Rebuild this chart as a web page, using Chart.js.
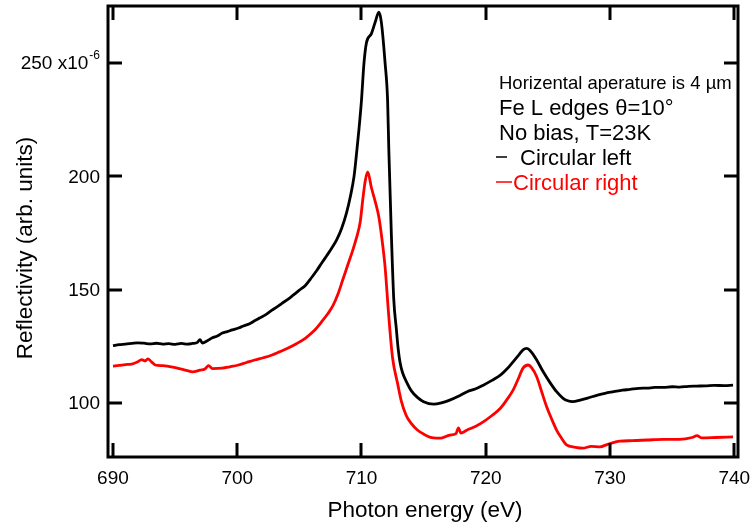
<!DOCTYPE html>
<html>
<head>
<meta charset="utf-8">
<script src="https://cdn.jsdelivr.net/npm/chart.js@4"></script>
<style>
  html, body { margin: 0; padding: 0; background: #fff; overflow: hidden; }
  canvas { display: block; }
</style>
</head>
<body>
<canvas id="refl-chart" width="753" height="529"></canvas>
<script>
// circular left (black)
var energyLeft = [690.0,690.5,691.0,691.5,692.0,692.5,693.0,693.5,694.0,694.5,695.0,695.5,696.0,696.4,696.8,697.0,697.2,697.6,
  698.0,698.4,698.8,699.2,699.6,700.1,700.5,701.0,701.4,701.8,702.3,702.8,703.2,703.6,704.1,704.5,705.0,705.5,706.0,706.4,
  706.8,707.2,707.6,708.0,708.4,708.8,709.1,709.4,709.6,709.8,710.0,710.2,710.4,710.8,711.1,711.4,711.6,711.9,712.1,712.2,712.4,
  712.6,712.8,712.95,713.1,713.3,713.7,714.0,714.5,715.0,715.8,716.5,717.1,717.8,718.5,719.2,719.8,720.5,721.2,721.7,722.2,722.7,
  723.0,723.3,723.6,724.1,724.6,725.2,725.7,726.2,726.6,727.0,727.6,728.2,729.0,729.6,730.3,731.0,731.6,732.3,733.0,733.6,
  734.3,735.0,735.6,736.3,737.0,737.7,738.4,739.2,739.9];
var reflLeft = [125.3,125.8,126.0,126.3,126.6,126.4,126.1,126.4,126.0,126.2,125.9,126.3,126.0,126.3,126.8,128.0,126.5,127.5,
  128.8,129.6,130.9,131.5,132.3,133.1,134.0,135.0,136.3,137.5,139.0,141.0,142.4,144.0,145.9,147.6,149.8,152.0,155.5,158.5,
  161.8,165.0,168.3,172.0,177.0,184.0,191.0,200.0,210.0,221.0,233.7,250.0,259.0,263.0,268.0,272.5,268.0,250.0,233.7,211.6,175.0,
  145.5,133.0,124.0,118.0,113.5,108.5,105.5,102.5,100.6,99.5,100.2,101.3,103.0,105.0,106.3,107.9,110.0,112.4,115.0,118.2,121.5,
  123.5,124.1,123.0,119.0,114.0,108.8,105.0,102.2,101.0,100.6,101.3,102.2,103.5,104.3,105.0,105.7,106.0,106.5,106.6,106.9,
  106.9,107.2,107.0,107.4,107.5,107.6,107.8,107.7,107.9];

// circular right (red)
var energyRight = [690.0,690.5,691.0,691.5,692.0,692.3,692.6,692.8,693.1,693.4,694.0,694.8,695.5,696.0,696.4,697.0,697.4,697.7,
  698.0,698.8,699.4,700.1,700.7,701.4,702.1,702.8,703.4,704.1,704.8,705.5,706.2,706.8,707.3,707.7,708.1,708.5,708.9,709.3,
  709.6,709.9,710.1,710.3,710.5,710.8,711.1,711.4,711.7,711.9,712.2,712.5,712.9,713.2,713.6,714.0,714.5,715.0,715.8,716.4,
  717.1,717.6,717.8,718.0,718.5,719.2,719.8,720.5,721.2,721.7,722.2,722.6,723.0,723.4,723.7,724.1,724.5,724.9,725.3,725.7,
  726.1,726.5,727.2,727.8,728.5,729.2,729.8,730.8,731.8,733.0,734.3,735.6,736.6,737.0,737.4,738.5,739.9];
var reflRight = [116.3,116.6,117.0,117.2,118.2,119.2,118.6,119.5,118.2,116.8,116.5,115.9,115.0,114.3,113.8,114.5,115.0,116.5,
  115.2,115.4,116.0,116.8,117.8,119.0,120.0,121.2,122.6,124.3,126.3,128.7,132.0,135.9,139.5,143.0,148.0,154.5,161.0,167.5,
  173.0,180.0,189.6,198.0,202.0,195.0,189.0,182.0,170.0,160.0,138.0,120.0,108.8,101.0,94.5,91.0,88.1,86.3,84.6,84.5,
  85.9,86.5,89.0,86.8,88.1,89.8,91.7,94.5,97.8,101.5,105.7,110.5,115.4,116.8,115.5,111.6,105.0,98.4,93.0,88.1,
  84.5,81.5,80.5,80.1,80.9,80.7,81.8,83.2,83.4,83.7,84.0,84.0,84.8,85.6,84.6,84.8,85.1];

var xTicks = [690, 700, 710, 720, 730, 740];
var yTicks = [100, 150, 200, 250];

var legendLines = ["Fe L edges \u03b8=10\u00b0", "No bias, T=23K"];
var FONT = "Arial, 'Liberation Sans', sans-serif";

function toPoints(xs, ys) {
  return xs.map(function (x, i) { return { x: x, y: ys[i] }; });
}

var frameAndLabels = {
  id: 'frameAndLabels',
  afterDraw: function (chart) {
    var ctx = chart.ctx;
    var a = chart.chartArea;
    var xs = chart.scales.x, ys = chart.scales.y;
    ctx.save();
    ctx.strokeStyle = '#000';
    ctx.lineWidth = 3;
    ctx.strokeRect(a.left, a.top, a.right - a.left, a.bottom - a.top);

    // mirrored inward ticks
    ctx.beginPath();
    xTicks.forEach(function (t) {
      var px = Math.round(xs.getPixelForValue(t));
      ctx.moveTo(px, a.bottom); ctx.lineTo(px, a.bottom - 14);
      ctx.moveTo(px, a.top); ctx.lineTo(px, a.top + 14);
    });
    yTicks.forEach(function (t) {
      var py = Math.round(ys.getPixelForValue(t));
      ctx.moveTo(a.left, py); ctx.lineTo(a.left + 14, py);
      ctx.moveTo(a.right, py); ctx.lineTo(a.right - 14, py);
    });
    ctx.stroke();

    ctx.fillStyle = '#000';
    ctx.font = '19px ' + FONT;
    ctx.textAlign = 'center';
    ctx.textBaseline = 'alphabetic';
    xTicks.forEach(function (t) {
      ctx.fillText(String(t), xs.getPixelForValue(t), 484);
    });

    ctx.textAlign = 'right';
    ctx.textBaseline = 'middle';
    yTicks.forEach(function (t) {
      var py = ys.getPixelForValue(t);
      if (t === 250) {
        ctx.font = '12px ' + FONT;
        var supW = ctx.measureText('-6').width;
        ctx.fillText('-6', 100, py - 7);
        ctx.font = '19px ' + FONT;
        ctx.fillText('250 x10', 100 - supW - 1, py + 1);
      } else {
        ctx.fillText(String(t), 100, py + 1);
      }
    });

    // axis titles
    ctx.font = '22.5px ' + FONT;
    ctx.textAlign = 'center';
    ctx.textBaseline = 'alphabetic';
    ctx.fillText('Photon energy (eV)', 425, 517);
    ctx.save();
    ctx.translate(32, 248);
    ctx.rotate(-Math.PI / 2);
    ctx.fillText('Reflectivity (arb. units)', 0, 0);
    ctx.restore();

    // annotation block
    ctx.textAlign = 'left';
    ctx.font = '18.5px ' + FONT;
    ctx.fillText('Horizental aperature is 4 \u00b5m', 499, 89);
    ctx.font = '22px ' + FONT;
    ctx.fillText(legendLines[0], 499, 115);
    ctx.fillText(legendLines[1], 499, 140);

    chart.data.datasets.forEach(function (ds, i) {
      var y = 165 + i * 25;
      ctx.strokeStyle = ds.borderColor;
      ctx.lineWidth = 1.5;
      ctx.beginPath();
      ctx.moveTo(496, y - 8);
      ctx.lineTo(i === 0 ? 507 : 512, y - 8);
      ctx.stroke();
      ctx.fillStyle = ds.borderColor;
      ctx.fillText(ds.label, i === 0 ? 520 : 513, y);
    });
    ctx.restore();
  }
};

window.onload = function () {
  var canvas = document.getElementById('refl-chart');
  new Chart(canvas, {
    type: 'line',
    data: {
      datasets: [{
        label: 'Circular left',
        data: toPoints(energyLeft, reflLeft),
        borderColor: '#000000',
        borderWidth: 2.8,
        pointRadius: 0,
        cubicInterpolationMode: 'monotone'
      }, {
        label: 'Circular right',
        data: toPoints(energyRight, reflRight),
        borderColor: '#ff0000',
        borderWidth: 2.8,
        pointRadius: 0,
        cubicInterpolationMode: 'monotone'
      }]
    },
    options: {
      responsive: false,
      animation: false,
      devicePixelRatio: 1,
      layout: { padding: { left: 108, right: 15, top: 6, bottom: 72 } },
      plugins: { legend: { display: false }, tooltip: { enabled: false } },
      scales: {
        x: { type: 'linear', min: 689.6, max: 740.3, display: false },
        y: { type: 'linear', min: 76.2, max: 275.2, display: false }
      }
    },
    plugins: [frameAndLabels]
  });
};
</script>
</body>
</html>
